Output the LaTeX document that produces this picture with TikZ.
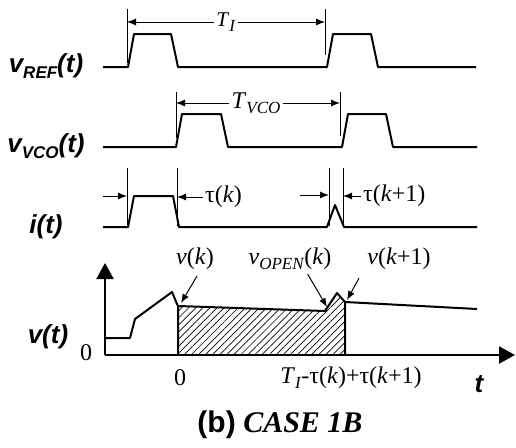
\documentclass[tikz,border=0pt]{standalone}
\usepackage{fontspec}
\setmainfont{Liberation Serif}
\setsansfont{Liberation Sans}
\usetikzlibrary{arrows.meta,patterns.meta}

\newcommand{\lowsub}[1]{\raisebox{-0.45ex}{\fontsize{17}{17}\selectfont #1}}

\tikzset{
  wave/.style={line width=2pt, line join=round},
  tickline/.style={line width=1pt},
  dim/.style={line width=1pt, -{Latex[length=9pt,width=7pt]}},
  sig/.style={font=\sffamily\bfseries\itshape\fontsize{26}{28}\selectfont, inner sep=0pt},
  lab/.style={font=\fontsize{24}{26}\selectfont, inner sep=0pt}
}
\tikzset{axis/.style={line width=2pt, -{Triangle[length=16pt,width=17pt]}}}

\begin{document}
\begin{tikzpicture}[x=1pt,y=-1pt]
  \useasboundingbox (0,0) rectangle (516,447);

  % signal names
  \node[sig] (vref) at (46,66) {v\lowsub{REF}(t)};
  \node[sig] (vvco) at (46,146) {v\lowsub{VCO}(t)};
  \node[sig] (it) at (46,227) {i(t)};
  \node[sig] (vt) at (48,337) {v(t)};

  % v_REF
  \draw[wave] (103,67) -- (128,67) -- (134,34) -- (171,34) -- (178,67)
    -- (327,67) -- (333,34) -- (371,34) -- (378,67) -- (476,67);
  % v_VCO
  \draw[wave] (103,147) -- (176,147) -- (182,114) -- (221,114) -- (228,147)
    -- (342,147) -- (348,114) -- (386,114) -- (393,147) -- (477,147);
  % i(t)
  \draw[wave] (103,227) -- (128,227) -- (134,196) -- (173,196) -- (179,227)
    -- (327,227) -- (335,205) -- (344,227) -- (477,227);

  % T_I
  \coordinate (tiL) at (127,9);
  \coordinate (tiR) at (325,9);
  \draw[tickline] (tiL) -- ++(0,54);
  \draw[tickline] (tiR) -- ++(0,46);
  \node[lab, inner sep=2pt, font=\fontsize{21}{23}\selectfont] (TI) at (226,22)
    {\textit{T}\lowsub{\textit{I}}};
  \draw[dim] (TI) -- (TI -| tiL);
  \draw[dim] (TI) -- (TI -| tiR);

  % T_VCO
  \coordinate (tvL) at (176,92);
  \coordinate (tvR) at (340,92);
  \draw[tickline] (tvL) -- ++(0,46);
  \draw[tickline] (tvR) -- ++(0,44);
  \node[lab, inner sep=2pt] (TV) at (256,103) {\textit{T}\lowsub{\textit{VCO}}};
  \draw[dim] (TV) -- (TV -| tvL);
  \draw[dim] (TV) -- (TV -| tvR);

  % tau(k)
  \coordinate (ikL) at (127,168);
  \coordinate (ikR) at (177,168);
  \coordinate (ikIn) at (103,196);
  \draw[tickline] (ikL) -- ++(0,58);
  \draw[tickline] (ikR) -- ++(0,58);
  \node[lab, inner sep=2pt, anchor=west] (tauk) at (203,197) {τ(\textit{k})};
  \draw[dim] (ikIn) -- (ikIn -| ikL);
  \draw[dim] (tauk) -- (tauk -| ikR);

  % tau(k+1)
  \coordinate (jkL) at (329,168);
  \coordinate (jkR) at (343,168);
  \coordinate (jkIn) at (300,195);
  \draw[tickline] (jkL) -- ++(0,58);
  \draw[tickline] (jkR) -- ++(0,58);
  \node[lab, inner sep=2pt, anchor=west] (taukk) at (361,196) {τ(\textit{k}+1)};
  \draw[dim] (jkIn) -- (jkIn -| jkL);
  \draw[dim] (taukk) -- (taukk -| jkR);

  % v(t)
  \coordinate (O) at (105,355);
  \draw[wave, pattern={Lines[angle=45,distance=5pt,line width=0.7pt]}]
    (178,355) -- (178,306) -- (325,311) -- (337,293) -- (345,302) -- (345,355);
  \draw[wave] (105,338) -- (130,338) -- (135,319) -- (172,292) -- (177,304) -- (178,306);
  \draw[wave] (345,302) -- (477,309);
  \draw[axis] (O) -- (105,263);
  \draw[axis] (O) -- (515,355);

  % pointers
  \node[lab] (vk) at (195,259) {\textit{v}(\textit{k})};
  \node[lab] (vopen) at (290,259) {\textit{v}\lowsub{\textit{OPEN}}(\textit{k})};
  \node[lab] (vkk) at (399,259) {\textit{v}(\textit{k}+1)};
  \coordinate (pk) at (181,303);
  \coordinate (pOpen) at (327,307);
  \coordinate (pkk) at (347,300);
  \draw[dim] ([xshift=2pt,yshift=-6pt]vk.south) -- (pk);
  \draw[dim] ([xshift=-24pt,yshift=-4pt]vopen.south east) -- (pOpen);
  \draw[dim] ([xshift=-40pt,yshift=-8pt]vkk.south) -- (pkk);

  % axis labels
  \node[lab] (zy) at (86,353) {0};
  \node[lab] (zx) at (180,378) {0};
  \node[lab] (tend) at (351,378) {\textit{T}\lowsub{\textit{I}}-τ(\textit{k})+τ(\textit{k}+1)};
  \node[sig] (tax) at (479,384) {t};

  % caption
  \node[font=\fontsize{30}{32}\selectfont] (cap) at (280,425)
    {{\sffamily\bfseries (b)} \textbf{\textit{CASE 1B}}};
\end{tikzpicture}
\end{document}
